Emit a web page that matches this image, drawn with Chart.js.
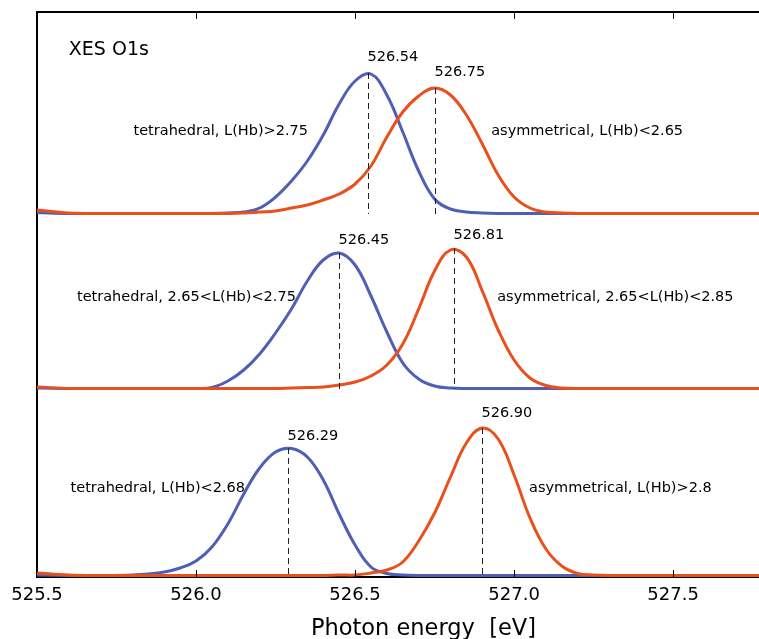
<!DOCTYPE html>
<html>
<head>
<meta charset="utf-8">
<script src="https://cdn.jsdelivr.net/npm/chart.js@4"></script>
<style>
  html, body { margin: 0; padding: 0; background: #fff; }
  #wrap { width: 759px; height: 639px; }
</style>
</head>
<body>
<div id="wrap"><canvas id="xes" width="759" height="639"></canvas></div>
<script>
// photon energy grid (eV)
let energy = [525.50, 525.60, 525.70, 525.80, 525.85, 525.90, 525.95, 526.00, 526.05, 526.10,
              526.15, 526.20, 526.25, 526.30, 526.35, 526.40, 526.45, 526.50, 526.55, 526.60,
              526.65, 526.70, 526.75, 526.80, 526.85, 526.90, 526.95, 527.00, 527.05, 527.10,
              527.15, 527.20, 527.25, 527.30, 527.40, 527.60, 527.80];

// intensities (arb. units), one row per curve
let tetraTop = [1.5, 0.5, 0.5, 0.5, 0.5, 0.5, 0.5, 0.5, 0.5, 1,
                2, 6, 17, 33, 53, 79, 110, 133, 140, 119,
                82, 43, 15, 5, 2, 1, 0.5, 0.5, 0.5, 0.5,
                0.5, 0.5, 0.5, 0.5, 0.5, 0.5, 0.5];
let asymTop = [4, 1, 0.5, 0.5, 0.5, 0.5, 0.5, 0.5, 0.5, 0.5,
               1, 2, 3, 6, 9, 14, 20, 30, 48, 77,
               102, 118, 126, 119, 99, 70, 39, 17, 6, 2,
               1, 0.5, 0.5, 0.5, 0.5, 0.5, 0.5];
let tetraMid = [1, 0.5, 0.5, 0.5, 0.5, 0.5, 0.5, 0.5, 1.5, 8,
                19, 35, 56, 80, 108, 129, 136, 124, 93, 57,
                26, 10, 3, 1, 0.5, 0.5, 0.5, 0.5, 0.5, 0.5,
                0.5, 0.5, 0.5, 0.5, 0.5, 0.5, 0.5];
let asymMid = [2, 0.5, 0.5, 0.5, 0.5, 0.5, 0.5, 0.5, 0.5, 0.5,
               0.5, 0.5, 0.5, 1, 1.5, 2, 4, 7, 13, 24,
               45, 80, 118, 139, 132, 98, 59, 29, 11, 3.5,
               1, 0.5, 0.5, 0.5, 0.5, 0.5, 0.5];
let tetraBot = [1, 0.5, 0.5, 1, 2, 4, 8, 15, 29, 52,
                82, 108, 124, 127.5, 119, 96, 62, 31, 9, 2.5,
                1, 0.5, 0.5, 0.5, 0.5, 0.5, 0.5, 0.5, 0.5, 0.5,
                0.5, 0.5, 0.5, 0.5, 0.5, 0.5, 0.5];
let asymBot = [3, 1, 0.5, 0.5, 0.5, 0.5, 0.5, 0.5, 0.5, 0.5,
               0.5, 0.5, 0.5, 0.5, 0.5, 0.5, 1, 1, 3, 6,
               14, 35, 63, 99, 133, 148, 137, 101, 58, 27,
               10, 2.5, 1, 0.5, 0.5, 0.5, 0.5];

// vertical shift of each panel (top, middle, bottom)
let panelOffsets = [363, 188, 1];
// peak positions and heights (tetrahedral, asymmetrical) per panel
let peakEnergies = [[526.54, 526.75], [526.45, 526.81], [526.29, 526.90]];
let peakHeights = [[141, 126], [136, 141], [128, 148]];
let tetraLabels = ["tetrahedral, L(Hb)>2.75", "tetrahedral, 2.65<L(Hb)<2.75", "tetrahedral, L(Hb)<2.68"];
let asymLabels = ["asymmetrical, L(Hb)<2.65", "asymmetrical, 2.65<L(Hb)<2.85", "asymmetrical, L(Hb)>2.8"];
let xTicks = [525.5, 526.0, 526.5, 527.0, 527.5];

const BLUE = "#4e5fb4";
const ORANGE = "#e8501e";
const FONT = "DejaVu Sans";

let panels = [[tetraTop, asymTop], [tetraMid, asymMid], [tetraBot, asymBot]];

let datasets = [];
panels.forEach((pair, i) => {
    let off = panelOffsets[i];
    pair.forEach((vals, j) => {
        datasets.push({
            data: energy.map((e, k) => ({ x: e, y: vals[k] + off })),
            borderColor: j === 0 ? BLUE : ORANGE,
            borderWidth: 3,
            pointRadius: 0,
            fill: false,
            tension: 0.4,
            order: j === 0 ? 2 : 1
        });
    });
});

// text placement: [energy, y] anchor in data units
let tetraPos = [[526.352, 442], [526.314, 276], [526.154, 85]];
let asymPos = [[526.928, 442], [526.947, 276], [527.047, 85]];
let peakLabelGap = [[12, 12], [9, 9], [8, 11]];

const overlay = {
    id: "overlay",
    afterDatasetsDraw(chart) {
        let ctx = chart.ctx;
        let area = chart.chartArea;
        let xs = chart.scales.x, ys = chart.scales.y;
        ctx.save();

        // top frame
        ctx.strokeStyle = "#000";
        ctx.lineWidth = 2;
        ctx.beginPath();
        ctx.moveTo(area.left, area.top);
        ctx.lineTo(area.right, area.top);
        ctx.stroke();

        // inward tick marks, top and bottom
        ctx.lineWidth = 1;
        xs.ticks.forEach(t => {
            let px = Math.round(xs.getPixelForValue(t.value)) + 0.5;
            if (px < area.left + 2) return;
            ctx.beginPath();
            ctx.moveTo(px, area.top);
            ctx.lineTo(px, area.top + 7);
            ctx.moveTo(px, area.bottom);
            ctx.lineTo(px, area.bottom - 7);
            ctx.stroke();
        });

        // dashed peak markers and peak values
        ctx.font = "14.5px '" + FONT + "'";
        ctx.fillStyle = "#000";
        ctx.textBaseline = "alphabetic";
        ctx.textAlign = "left";
        panels.forEach((pair, i) => {
            let off = panelOffsets[i];
            pair.forEach((vals, j) => {
                let e = peakEnergies[i][j];
                let px = Math.round(xs.getPixelForValue(e)) + 0.5;
                let yTop = ys.getPixelForValue(peakHeights[i][j] + off);
                let yBase = ys.getPixelForValue(off);
                ctx.setLineDash([6, 4]);
                ctx.strokeStyle = "#222";
                ctx.beginPath();
                ctx.moveTo(px, yTop);
                ctx.lineTo(px, yBase);
                ctx.stroke();
                ctx.setLineDash([]);
                ctx.fillText(e.toFixed(2), px - 1, yTop - peakLabelGap[i][j]);
            });
            ctx.textAlign = "right";
            ctx.fillText(tetraLabels[i], xs.getPixelForValue(tetraPos[i][0]), ys.getPixelForValue(tetraPos[i][1]));
            ctx.textAlign = "left";
            ctx.fillText(asymLabels[i], xs.getPixelForValue(asymPos[i][0]), ys.getPixelForValue(asymPos[i][1]));
        });

        ctx.font = "19px '" + FONT + "'";
        ctx.fillText("XES O1s", xs.getPixelForValue(525.60), ys.getPixelForValue(522));

        // axis title, centred on the full axes width (axes run past the right edge)
        ctx.font = "22.5px '" + FONT + "'";
        ctx.textAlign = "center";
        ctx.fillText("Photon energy  [eV]", xs.getPixelForValue(526.715), 635);
        ctx.restore();
    }
};

new Chart(document.getElementById("xes").getContext("2d"), {
    type: "line",
    data: { datasets: datasets },
    options: {
        responsive: false,
        animation: false,
        layout: { padding: { left: 37, right: 0, top: 12, bottom: 24.4 } },
        plugins: { legend: { display: false }, tooltip: { enabled: false } },
        scales: {
            x: {
                type: "linear",
                min: 525.5,
                max: 527.77,
                afterBuildTicks: axis => { axis.ticks = xTicks.map(v => ({ value: v })); },
                ticks: {
                    color: "#000",
                    padding: 8,
                    font: { family: FONT, size: 18 },
                    callback: v => v.toFixed(1)
                },
                grid: { display: false, drawTicks: false },
                border: { display: true, color: "#000", width: 2 }
            },
            y: {
                min: 0,
                max: 565,
                ticks: { display: false },
                grid: { display: false, drawTicks: false },
                border: { display: true, color: "#000", width: 2 }
            }
        }
    },
    plugins: [overlay]
});
</script>
</body>
</html>
